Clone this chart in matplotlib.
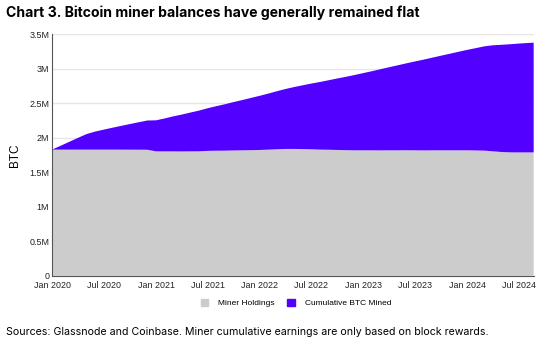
import pandas as pd
import matplotlib.pyplot as plt
import matplotlib.dates as mdates
from matplotlib.ticker import FuncFormatter
from matplotlib.patches import Patch

# monthly readings, Jan 2020 .. Aug 2024 plus the last day shown (values in million BTC)
dates = list(pd.date_range('2020-01-01', '2024-08-01', freq='MS')) + [pd.Timestamp('2024-08-20')]

miner_holdings = [
    1.830, 1.830, 1.830, 1.830, 1.830, 1.830, 1.830, 1.830, 1.830, 1.829, 1.829, 1.828,
    1.805, 1.805, 1.805, 1.804, 1.805, 1.806, 1.812, 1.814, 1.815, 1.818, 1.820, 1.822,
    1.825, 1.830, 1.835, 1.840, 1.840, 1.838, 1.835, 1.830, 1.828, 1.825, 1.822, 1.820,
    1.820, 1.820, 1.819, 1.820, 1.820, 1.821, 1.820, 1.819, 1.820, 1.820, 1.820, 1.820,
    1.820, 1.818, 1.815, 1.805, 1.795, 1.790, 1.790, 1.790, 1.790,
]
cumulative_mined = [
    0.000, 0.057, 0.112, 0.170, 0.225, 0.262, 0.290, 0.318, 0.345, 0.372, 0.398, 0.424,
    0.450, 0.478, 0.506, 0.534, 0.562, 0.590, 0.618, 0.646, 0.674, 0.702, 0.730, 0.758,
    0.786, 0.814, 0.841, 0.869, 0.897, 0.925, 0.953, 0.981, 1.009, 1.037, 1.065, 1.093,
    1.121, 1.149, 1.177, 1.205, 1.233, 1.261, 1.289, 1.317, 1.345, 1.373, 1.401, 1.429,
    1.457, 1.485, 1.513, 1.538, 1.555, 1.568, 1.578, 1.586, 1.590,
]

labels = ['Miner Holdings', 'Cumulative BTC Mined']
colors = ['#cccccc', '#5200ff']

plt.rcParams['font.family'] = ['Liberation Sans', 'DejaVu Sans']

fig = plt.figure(figsize=(5.43, 3.44), dpi=100)
ax = fig.add_axes([0.0958, 0.198, 0.887, 0.702])

holdings = [v * 1e6 for v in miner_holdings]
mined = [v * 1e6 for v in cumulative_mined]
ax.stackplot(dates, holdings, mined, colors=colors, linewidth=0)

ax.set_ylim(0, 3.5e6)
ax.set_yticks([i * 0.5e6 for i in range(8)])
ax.yaxis.set_major_formatter(FuncFormatter(
    lambda v, p: '0' if v == 0 else f'{v / 1e6:g}M'))
ax.set_xlim(dates[0], dates[-1])
ax.xaxis.set_major_locator(mdates.MonthLocator(bymonth=[1, 7]))
ax.xaxis.set_major_formatter(mdates.DateFormatter('%b %Y'))

ax.grid(axis='y', color='#e6e6e6', linewidth=1)
ax.set_axisbelow(True)
ax.tick_params(axis='both', length=0, labelsize=6.4, colors='#222222')
ax.tick_params(axis='y', pad=2)
ax.tick_params(axis='x', pad=4)
for s in ['top', 'right']:
    ax.spines[s].set_visible(False)
for s in ['left', 'bottom']:
    ax.spines[s].set_color('#555555')
    ax.spines[s].set_linewidth(0.8)
ax.set_ylabel('BTC', fontsize=8.5, labelpad=6)

handles = [Patch(color=c, label=l) for c, l in zip(colors, labels)]
fig.legend(handles=handles, loc='center', bbox_to_anchor=(0.545, 0.119), ncol=2,
           frameon=False, fontsize=6, handlelength=0.9, handleheight=0.9,
           columnspacing=1.5, handletextpad=1.2)

fig.text(0.011, 0.962, 'Chart 3. Bitcoin miner balances have generally remained flat',
         fontsize=10.1, fontweight='bold', family=['Inter', 'DejaVu Sans'], va='center')
fig.text(0.011, 0.035, 'Sources: Glassnode and Coinbase. Miner cumulative earnings are only based on block rewards.',
         fontsize=7.65, family=['Inter', 'DejaVu Sans'], va='center')

fig.savefig('out.png', dpi=100)
